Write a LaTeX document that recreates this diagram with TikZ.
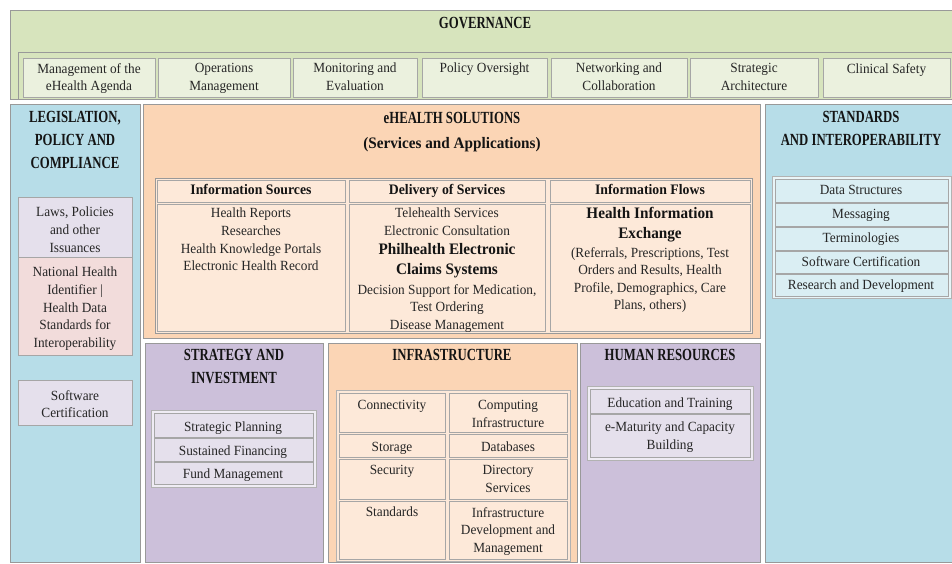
\documentclass[tikz,border=0pt]{standalone}
\usepackage{fontspec}
\setmainfont{Liberation Serif}[FakeStretch=0.95]
\newfontfamily\capsfont{Liberation Serif}[FakeStretch=0.75]
\usetikzlibrary{fit,shadows}
\definecolor{govgreen}{HTML}{D7E4BD}
\definecolor{govcell}{HTML}{EBF1DE}
\definecolor{lblue}{HTML}{B7DDE8}
\definecolor{cblue}{HTML}{DAEEF3}
\definecolor{peach}{HTML}{FBD5B5}
\definecolor{lpeach}{HTML}{FDE9D9}
\definecolor{purp}{HTML}{CCC0DA}
\definecolor{lav}{HTML}{E5E0EC}
\definecolor{pinkc}{HTML}{F2DCDB}
\begin{document}
\begin{tikzpicture}[x=1pt,y=-1pt,
  panel/.style={draw=black!40, line width=0.8pt, inner sep=0pt, fit={#1}},
  cell/.style={draw=black!35, line width=0.7pt, inner sep=0pt, fit={#1}},
  group/.style={draw=black!30, line width=0.7pt, inner sep=0pt, fit={#1},
    drop shadow={shadow xshift=1.2pt, shadow yshift=-1.2pt, opacity=0.3}},
  txt/.style={inner sep=0pt, align=center, text=black!85, font=\fontsize{14}{17.6}\selectfont},
  hdr/.style={inner sep=0pt, align=center, text=black!92, font=\bfseries\fontsize{14.5}{17}\selectfont},
  big/.style={inner sep=0pt, align=center, text=black!92, font=\bfseries\fontsize{16}{20}\selectfont},
  ttl/.style={inner sep=0pt, align=center, text=black!92, font=\capsfont\bfseries\fontsize{17}{23}\selectfont}]
\fill[white] (0,0) rectangle (952,564);
\useasboundingbox (0,0) rectangle (952,564);

% ---------------- GOVERNANCE ----------------
\node[panel={(10,10) (952,99)}, fill=govgreen] (gov) {};
\node[ttl, anchor=base] (govt) at (485,28.5) {GOVERNANCE};
\node[panel={(18,52) (952,99)}, fill=govgreen] (govrow) {};
\node[cell={(23,58) (155,97)}, fill=govcell] (g1) {};
\node[cell={(158,58) (290,97)}, fill=govcell] (g2) {};
\node[cell={(293,58) (417,97)}, fill=govcell] (g3) {};
\node[cell={(422,58) (547,97)}, fill=govcell] (g4) {};
\node[cell={(551,58) (687,97)}, fill=govcell] (g5) {};
\node[cell={(690,58) (818,97)}, fill=govcell] (g6) {};
\node[cell={(823,58) (950,97)}, fill=govcell] (g7) {};
\node[txt, anchor=north] (g1t) at (89,63) {Management of the\\eHealth Agenda};
\node[txt, anchor=north] (g2t) at (224,63) {Operations\\Management};
\node[txt, anchor=north] (g3t) at (355,63) {Monitoring and\\Evaluation};
\node[txt, anchor=north] (g4t) at (484.5,63) {Policy Oversight};
\node[txt, anchor=north] (g5t) at (619,63) {Networking and\\Collaboration};
\node[txt, anchor=north] (g6t) at (754,63) {Strategic\\Architecture};
\node[txt, anchor=north] (g7t) at (886.5,63) {Clinical Safety};

% ---------------- LEGISLATION ----------------
\node[panel={(10,104) (140,562)}, fill=lblue] (leg) {};
\node[ttl, anchor=north] (legt) at (75,111.5) {LEGISLATION,\\POLICY AND\\COMPLIANCE};
\node[cell={(18,197) (132,257)}, fill=lav] (laws) {};
\node[txt, anchor=north] (lawst) at (75,207) {Laws, Policies\\and other\\Issuances};
\node[cell={(18,257) (132,355)}, fill=pinkc] (nhi) {};
\node[txt, anchor=north] (nhit) at (75,267) {National Health\\Identifier |\\Health Data\\Standards for\\Interoperability};
\node[cell={(18,380) (132,425)}, fill=lav] (swc) {};
\node[txt, anchor=north] (swct) at (75,390) {Software\\Certification};

% ---------------- eHEALTH SOLUTIONS ----------------
\node[panel={(143,104) (760,338)}, fill=peach] (eh) {};
\node[ttl, anchor=base] (eht1) at (452,123.5) {eHEALTH SOLUTIONS};
\node[big, anchor=base] (eht2) at (452,148.5) {(Services and Applications)};
\node[panel={(155,178) (752,333)}, fill=lpeach] (ehtab) {};
\node[cell={(157,180) (345,202)}, fill=lpeach] (h1) {};
\node[cell={(349,180) (545,202)}, fill=lpeach] (h2) {};
\node[cell={(550,180) (750,202)}, fill=lpeach] (h3) {};
\node[cell={(157,204) (345,331)}, fill=lpeach] (c1) {};
\node[cell={(349,204) (545,331)}, fill=lpeach] (c2) {};
\node[cell={(550,204) (750,331)}, fill=lpeach] (c3) {};
\node[hdr, anchor=base] (h1t) at (251,194.5) {Information Sources};
\node[hdr, anchor=base] (h2t) at (447,194.5) {Delivery of Services};
\node[hdr, anchor=base] (h3t) at (650,194.5) {Information Flows};
\node[txt, anchor=north] (c1t) at (251,208) {Health Reports\\Researches\\Health Knowledge Portals\\Electronic Health Record};
\node[txt, anchor=north] (c2a) at (447,208) {Telehealth Services\\Electronic Consultation};
\node[big, anchor=north] (c2b) at (447,243.5) {Philhealth Electronic\\Claims Systems};
\node[txt, anchor=north] (c2c) at (447,284) {Decision Support for Medication,\\Test Ordering\\Disease Management};
\node[big, anchor=north] (c3a) at (650,207.5) {Health Information\\Exchange};
\node[txt, anchor=north] (c3b) at (650,247) {(Referrals, Prescriptions, Test\\Orders and Results, Health\\Profile, Demographics, Care\\Plans, others)};

% ---------------- STANDARDS ----------------
\node[panel={(765,104) (952,562)}, fill=lblue] (std) {};
\node[ttl, anchor=north] (stdt) at (861,111.5) {STANDARDS\\AND INTEROPERABILITY};
\node[group={(772,176) (951,298)}, fill=cblue!60!white] (stdg) {};
\node[cell={(775,179) (948,202)}, fill=cblue] (s1) {};
\node[cell={(775,203) (948,226)}, fill=cblue] (s2) {};
\node[cell={(775,227) (948,250)}, fill=cblue] (s3) {};
\node[cell={(775,251) (948,273)}, fill=cblue] (s4) {};
\node[cell={(775,274) (948,296)}, fill=cblue] (s5) {};
\node[txt, anchor=base] (s1t) at (861,194.5) {Data Structures};
\node[txt, anchor=base] (s2t) at (861,218.5) {Messaging};
\node[txt, anchor=base] (s3t) at (861,242.5) {Terminologies};
\node[txt, anchor=base] (s4t) at (861,266.5) {Software Certification};
\node[txt, anchor=base] (s5t) at (861,289.5) {Research and Development};

% ---------------- STRATEGY ----------------
\node[panel={(145,343) (323,562)}, fill=purp] (str) {};
\node[ttl, anchor=north] (strt) at (234,349.5) {STRATEGY AND\\INVESTMENT};
\node[group={(151,410) (316,487)}, fill=lav!60!white] (strg) {};
\node[cell={(154,413) (313,437)}, fill=lav] (p1) {};
\node[cell={(154,438) (313,461)}, fill=lav] (p2) {};
\node[cell={(154,462) (313,484)}, fill=lav] (p3) {};
\node[txt, anchor=base] (p1t) at (233,431.5) {Strategic Planning};
\node[txt, anchor=base] (p2t) at (233,455.5) {Sustained Financing};
\node[txt, anchor=base] (p3t) at (233,478.5) {Fund Management};

% ---------------- INFRASTRUCTURE ----------------
\node[panel={(328,343) (577,562)}, fill=peach] (inf) {};
\node[ttl, anchor=base] (inft) at (452,360.5) {INFRASTRUCTURE};
\node[group={(336,390) (570,561)}, fill=lpeach] (infg) {};
\node[cell={(339,393) (445,432)}, fill=lpeach] (i1) {};
\node[cell={(449,393) (567,432)}, fill=lpeach] (i2) {};
\node[cell={(339,434) (445,457)}, fill=lpeach] (i3) {};
\node[cell={(449,434) (567,457)}, fill=lpeach] (i4) {};
\node[cell={(339,459) (445,499)}, fill=lpeach] (i5) {};
\node[cell={(449,459) (567,499)}, fill=lpeach] (i6) {};
\node[cell={(339,501) (445,559)}, fill=lpeach] (i7) {};
\node[cell={(449,501) (567,559)}, fill=lpeach] (i8) {};
\node[txt, anchor=north] (i1t) at (392,400) {Connectivity};
\node[txt, anchor=north] (i2t) at (508,400) {Computing\\Infrastructure};
\node[txt, anchor=north] (i3t) at (392,442) {Storage};
\node[txt, anchor=north] (i4t) at (508,442) {Databases};
\node[txt, anchor=north] (i5t) at (392,465) {Security};
\node[txt, anchor=north] (i6t) at (508,465) {Directory\\Services};
\node[txt, anchor=north] (i7t) at (392,507) {Standards};
\node[txt, anchor=north] (i8t) at (508,507) {Infrastructure\\Development and\\Management};

% ---------------- HUMAN RESOURCES ----------------
\node[panel={(580,343) (760,562)}, fill=purp] (hr) {};
\node[ttl, anchor=base] (hrt) at (670,360.5) {HUMAN RESOURCES};
\node[group={(587,386) (753,460)}, fill=lav!60!white] (hrg) {};
\node[cell={(590,389) (750,413)}, fill=lav] (e1) {};
\node[cell={(590,414) (750,457)}, fill=lav] (e2) {};
\node[txt, anchor=base] (e1t) at (670,407.5) {Education and Training};
\node[txt, anchor=north] (e2t) at (670,422) {e-Maturity and Capacity\\Building};
\end{tikzpicture}
\end{document}
